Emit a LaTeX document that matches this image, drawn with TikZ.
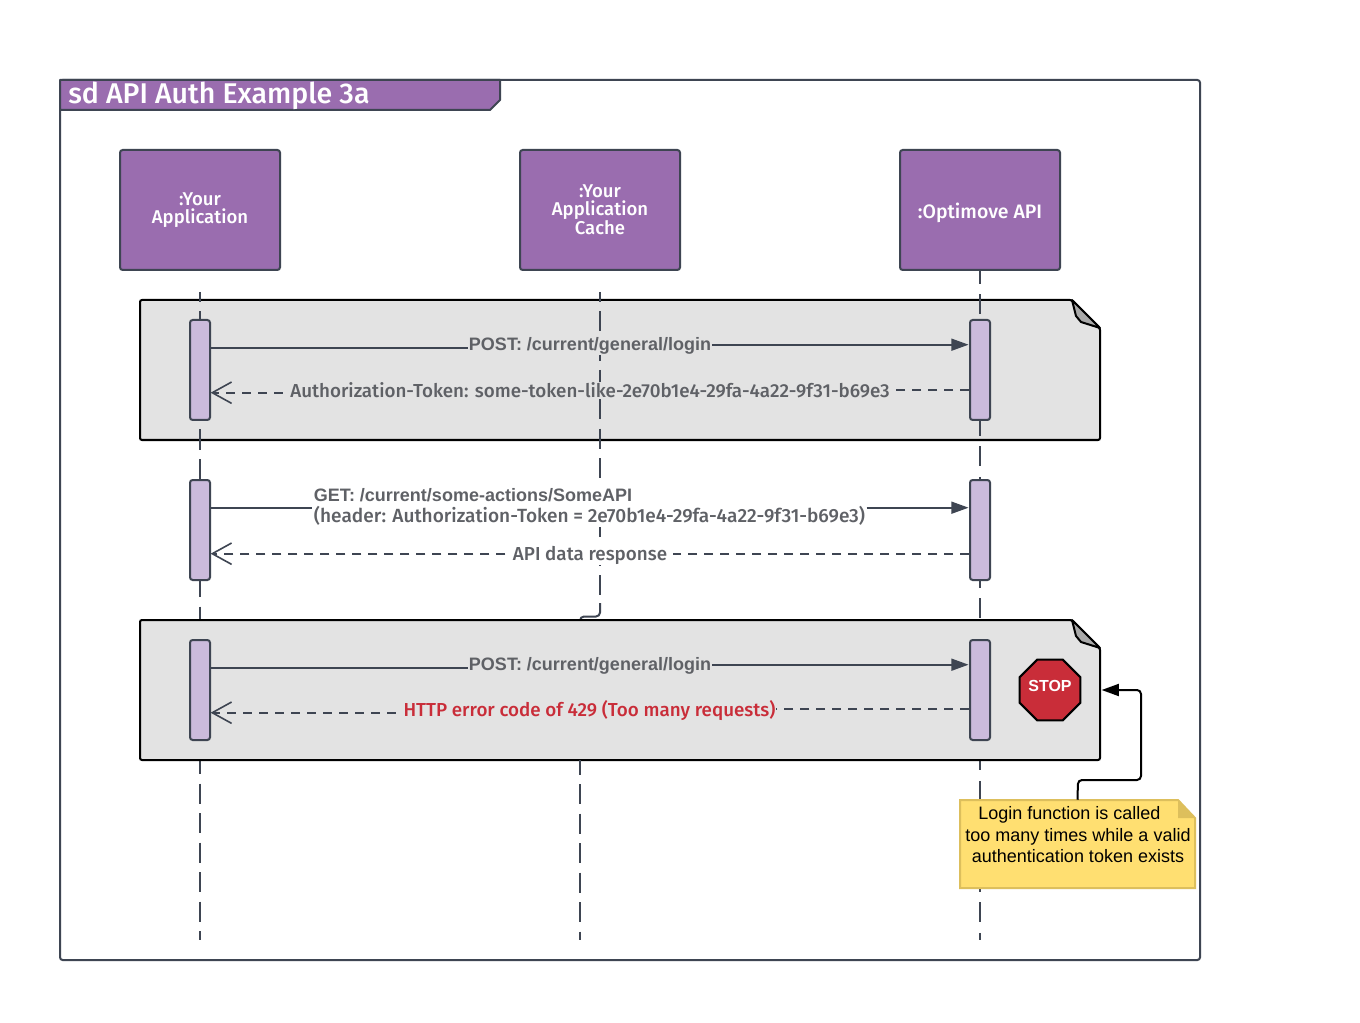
\documentclass[tikz,border=0pt]{standalone}
\usepackage{fontspec}
\setmainfont{Fira Sans Medium}
\newfontfamily\arialf{Liberation Sans}
\usetikzlibrary{arrows.meta,shapes.geometric,calc}
\definecolor{purp}{HTML}{9A6DAF}
\definecolor{dark}{HTML}{3E4552}
\definecolor{actc}{HTML}{CBBBDC}
\definecolor{noteg}{HTML}{E3E3E3}
\definecolor{foldg}{HTML}{A9A9A9}
\definecolor{txtg}{HTML}{5F6166}
\definecolor{redc}{HTML}{C92D39}
\definecolor{yel}{HTML}{FFDF71}
\definecolor{yeld}{HTML}{DDBF5C}
\tikzset{
  x=0.75pt,y=-0.75pt,
  lw/.style={line width=1.5pt},
  head/.style={draw=dark,fill=purp,lw,rounded corners=2pt,minimum width=120pt,minimum height=90pt,text=white,align=center,inner sep=0pt,font=\fontsize{13.9}{13}\selectfont},
  act/.style={draw=dark,fill=actc,lw,rounded corners=2pt,minimum width=15pt,minimum height=75pt,inner sep=0pt},
  greynote/.style={draw=black,fill=noteg,lw,rounded corners=1.5pt},
  fold/.style={draw=black,fill=foldg,lw,line join=round},
  life/.style={draw=dark,lw,dash pattern=on 15pt off 7.125pt},
  msg/.style={draw=dark,line width=1.4pt},
  ret/.style={draw=dark,line width=1.3pt,dash pattern=on 6.75pt off 5.25pt},
  filltip/.style={-{Triangle[length=13pt,width=9pt,fill=dark]},shorten >=0.3pt},
  opentip/.style={-{Straight Barb[length=14.5pt,width=16pt,line width=1.2pt]},shorten >=-0.3pt},
  lab/.style={inner sep=0.5pt,text=txtg,font=\fontsize{14.1}{16}\selectfont},
  labar/.style={inner sep=0.5pt,text=txtg,font=\arialf\bfseries\fontsize{13.5}{16}\selectfont},
}
\begin{document}
\begin{tikzpicture}
\useasboundingbox (0,0) rectangle (1360,1023);
\fill[white] (0,0) rectangle (1360,1023);
% frame
\node[draw=dark,lw,rounded corners=2pt,inner sep=0pt,minimum width=855pt,minimum height=660pt] (frame) at (630,520) {};
\draw[draw=dark,fill=purp,lw,line join=round] (60,80) -- (500,80) -- (500,100) -- (490,110) -- (60,110) -- cycle;
\node[anchor=west,text=white,inner sep=0pt,font=\fontsize{21.4}{21}\selectfont] (title) at (68,95.5) {sd API Auth Example 3a};
% headers
\node[head] (hA) at (200,210) {:Your\\Application};
\node[head] (hB) at (600,210) {:Your\\Application\\Cache};
\node[head,font=\fontsize{14.6}{13}\selectfont,text height=13.5pt,text depth=0pt] (hC) at (980,210) {:Optimove API};
% grey note 1
\draw[greynote] (140,300) -- (1072,300) -- (1100,328) -- (1100,440) -- (140,440) -- cycle;
\draw[fold] (1072,300) -- (1100,328) -- (1081,322) -- (1076,316) -- cycle;
\node[inner sep=0pt,minimum width=720pt,minimum height=105pt] (noteA) at (620,370) {};
% lifelines
\coordinate (lA) at (200,940);
\coordinate (lC) at (980,940);
\coordinate (lBtop) at (580,760);
\coordinate (lB) at (580,940);
\coordinate (bendB0) at (600,603);
\coordinate (bendB) at (600,616.5);
\coordinate (bendBb) at (580,616.5);
\coordinate (bendBc) at (580,620);
\draw[life,dash phase=7.5pt] ($(hA.south)+(0,21)$) -- (lA);
\draw[life,dash pattern=on 15pt off 7.8pt,dash phase=5.25pt] (hC.south) -- (lC);
\draw[life,dash pattern=on 15pt off 7pt,dash phase=7.5pt] ($(hB.south)+(0,21)$) -- (bendB0);
\draw[draw=dark,lw,rounded corners=3pt] (bendB0) -- (bendB) -- (bendBb) -- (bendBc);
% grey note 3
\draw[greynote] (140,620) -- (1072,620) -- (1100,648) -- (1100,760) -- (140,760) -- cycle;
\draw[fold] (1072,620) -- (1100,648) -- (1081,642) -- (1076,636) -- cycle;
\node[inner sep=0pt,minimum width=720pt,minimum height=105pt] (noteC) at (620,690) {};
\draw[life,dash phase=4pt] (lBtop) -- (lB);
% activations
\node[act] (a1) at (200,370) {};
\node[act] (c1) at (980,370) {};
\node[act] (a2) at (200,530) {};
\node[act] (c2) at (980,530) {};
\node[act] (a3) at (200,690) {};
\node[act] (c3) at (980,690) {};
% points on activations
\path (a1.north east) ++(0,28.7) coordinate (m1a);
\path (c1.north west) ++(0,25.7) coordinate (m1c);
\path (a1.north east) ++(0,73.7) coordinate (r1a);
\path (c1.north west) ++(0,70.7) coordinate (r1c);
\path (a2.north east) ++(0,28.7) coordinate (m2a);
\path (c2.north west) ++(0,28.7) coordinate (m2c);
\path (a2.north east) ++(0,74.7) coordinate (r2a);
\path (c2.north west) ++(0,74.7) coordinate (r2c);
\path (a3.north east) ++(0,28.7) coordinate (m3a);
\path (c3.north west) ++(0,25.7) coordinate (m3c);
\path (a3.north east) ++(0,73.7) coordinate (r3a);
\path (c3.north west) ++(0,69.7) coordinate (r3c);
% labels
\node[labar,fill=noteg] (t1) at (590,346) {POST: /current/general/login};
\node[lab,fill=noteg] (t2) at (590,390) {Authorization-Token: some-token-like-2e70b1e4-29fa-4a22-9f31-b69e3};
\node[lab,fill=white,align=left,inner sep=1pt,font=\fontsize{14.3}{16}\selectfont] (t3) at (589.5,507) {{\arialf\bfseries\fontsize{13.5}{16}\selectfont GET: /current/some-actions/SomeAPI}\\(header: Authorization-Token = 2e70b1e4-29fa-4a22-9f31-b69e3)};
\node[lab,fill=white] (t4) at (590,555) {API data response};
\node[labar,fill=noteg] (t5) at (590,666) {POST: /current/general/login};
\node[lab,fill=noteg,text=redc] (t6) at (589.5,710.5) {HTTP error code of 429 (Too many requests)};
% messages
\draw[msg] (m1a) -- (t1.west |- m1a);
\draw[msg,filltip] (t1.east |- m1c) -- (m1c);
\draw[ret] (r1c) -- (t2.east |- r1c);
\draw[ret,opentip,shorten <=5pt] (t2.west |- r1a) -- (r1a);
\draw[msg] (m2a) -- (t3.west |- m2a);
\draw[msg,filltip] (t3.east |- m2c) -- (m2c);
\draw[ret,shorten >=4pt] (r2c) -- (t4.east |- r2c);
\draw[ret,opentip,shorten <=5pt] (t4.west |- r2a) -- (r2a);
\draw[msg] (m3a) -- (t5.west |- m3a);
\draw[msg,filltip] (t5.east |- m3c) -- (m3c);
\draw[ret] (r3c) -- (t6.east |- r3c);
\draw[ret,opentip,shorten <=5pt] (t6.west |- r3a) -- (r3a);
% stop sign
\node[regular polygon,regular polygon sides=8,draw=black,fill=redc,lw,minimum size=49.5pt,inner sep=0pt] (stop) at (1050,690) {};
\node[text=white,inner sep=0pt,font=\arialf\bfseries\fontsize{12}{12}\selectfont] (stoplab) at (1050,686) {STOP};
% yellow note
\draw[draw=yeld,fill=yel,lw] (960,800) -- (1178,800) -- (1195,818) -- (1195,888) -- (960,888) -- cycle;
\fill[yeld] (1178,800) -- (1195,818) -- (1178,818) -- cycle;
\node[inner sep=0pt,minimum width=176pt,minimum height=66pt] (noteY) at (1077.5,844) {};
\node[inner sep=0pt,text=black,align=center,font=\arialf\fontsize{13.5}{16.1}\selectfont] (ytext) at (1078,835) {Login function is called\hspace*{0.95em}\\too many times while a valid\\authentication token exists};
% note connector
\coordinate (y1) at (1078,780);
\coordinate (y2) at (1141,780);
\coordinate (y3) at (1141,690);
\draw[draw=black,line width=1.5pt,rounded corners=3pt,-{Triangle[length=13pt,width=9pt,fill=black]},shorten >=1pt] (noteY.north) -- (y1) -- (y2) -- (y3) -- (noteC.east);
\end{tikzpicture}
\end{document}
